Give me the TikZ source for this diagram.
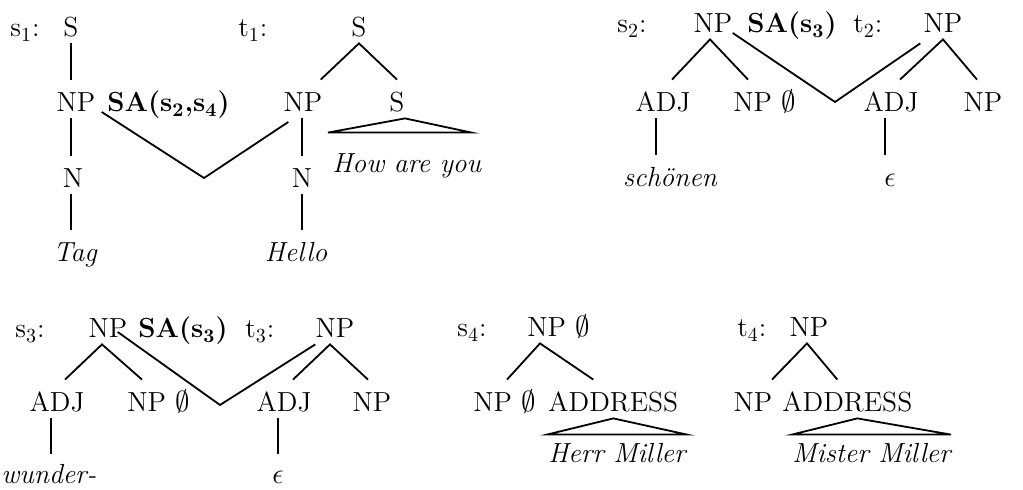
\documentclass[tikz,border=0pt]{standalone}
\usepackage{fontspec}
\begin{document}
\begin{tikzpicture}[x=0.5pt,y=-0.5pt,
 lbl/.style={inner sep=0pt,text height=16pt,text depth=3pt,anchor=base,font=\fontsize{13.8}{16}\selectfont},
 lblw/.style={lbl,anchor=base west},
 tl/.style={line width=0.9pt,line join=miter}]
\useasboundingbox (0,0) rectangle (1023,490);

% ---- s1 ----
\node[lblw] (s1lab) at (10,37) {s$_1$:};
\node[lbl] (s1S) at (71,37) {S};
\node[lbl] (s1NP) at (76,112) {NP};
\node[lblw] (s1SA) at (107,112) {\textbf{SA(s\textsubscript{2},s\textsubscript{4})}};
\node[lbl] (s1N) at (73,188) {N};
\node[lbl] (tag) at (75,262) {\itshape Tag};
\draw[tl] (s1S.south) -- (s1S.south |- s1NP.north);
\draw[tl] (s1S.south |- s1NP.south) -- (s1S.south |- s1N.north);
\draw[tl] (s1S.south |- s1N.south) -- (s1S.south |- tag.north);

% ---- t1 ----
\node[lblw] (t1lab) at (238,37) {t$_1$:};
\node[lbl] (t1S) at (359,37) {S};
\node[lbl] (t1NP) at (303,112) {NP};
\node[lbl] (t1S2) at (397,112) {S};
\node[lblw] (how) at (332,173) {\itshape How are you};
\node[lbl] (t1N) at (302,188) {N};
\node[lbl] (hello) at (296,262) {\itshape Hello};
\draw[tl] ([xshift=-1pt]t1NP.north east) -- (t1S.south) -- (t1S2.north);
\draw[tl] (t1N.north) -- (t1N.north |- t1NP.south);
\draw[tl] (t1N.south) -- (t1N.south |- hello.north);
\draw[tl] ([xshift=4pt]t1S2.south) -- ([xshift=-2pt,yshift=4pt]how.north west) -- ([xshift=-5pt,yshift=4pt]how.north east) -- cycle;
\coordinate (v1) at (204,178);
\draw[tl] ([xshift=3pt]s1NP.base east) -- (v1) -- ([xshift=2.5pt,yshift=-5pt]t1NP.base west);

% ---- s2 / t2 ----
\node[lblw] (s2lab) at (617,33) {s$_2$:};
\node[lbl] (s2NP) at (713,33) {NP};
\node[lblw] (s2SA) at (747,33) {\textbf{SA(s\textsubscript{3})}};
\node[lblw] (t2lab) at (853,33) {t$_2$:};
\node[lbl] (t2NP) at (943,33) {NP};
\node[lbl] (s2ADJ) at (663,112) {ADJ};
\node[lblw] (s2NPe) at (733,112) {NP $\emptyset$};
\node[lbl] (t2ADJ) at (891,112) {ADJ};
\node[lbl] (t2NPc) at (983,112) {NP};
\node[lbl] (schon) at (670,187) {\itshape schönen};
\node[lbl] (t2eps) at (890,187) {$\epsilon$};
\draw[tl] ([xshift=4.5pt]s2ADJ.north) -- ([xshift=-1.5pt]s2NP.south) -- ([xshift=7.5pt]s2NPe.north west);
\draw[tl] ([xshift=4.5pt]t2ADJ.north) -- (t2NP.south) -- ([xshift=-3pt]t2NPc.north);
\coordinate (v2) at (835,102);
\draw[tl] (s2NP.base east) -- (v2) -- ([xshift=-1.5pt,yshift=-2pt]t2NP.south west);
\draw[tl] ([xshift=-3.5pt]s2ADJ.south) -- ([xshift=-3.5pt]s2ADJ.south |- schon.north);
\draw[tl] ([xshift=-3pt]t2ADJ.south) -- ([xshift=-3pt]t2ADJ.south |- t2eps.north);

% ---- s3 / t3 ----
\node[lblw] (s3lab) at (15,338) {s$_3$:};
\node[lbl] (s3NP) at (108,338) {NP};
\node[lblw] (s3SA) at (138,338) {\textbf{SA(s\textsubscript{3})}};
\node[lblw] (t3lab) at (245,338) {t$_3$:};
\node[lbl] (t3NP) at (335,338) {NP};
\node[lbl] (s3ADJ) at (57,412) {ADJ};
\node[lblw] (s3NPe) at (127,412) {NP $\emptyset$};
\node[lbl] (t3ADJ) at (284,412) {ADJ};
\node[lbl] (t3NPc) at (372,412) {NP};
\node[lblw] (wund) at (1,484) {\itshape wunder-};
\node[lbl] (t3eps) at (278,484) {$\epsilon$};
\draw[tl] ([xshift=4pt]s3ADJ.north) -- ([xshift=-3pt]s3NP.south) -- ([xshift=7.5pt]s3NPe.north west);
\draw[tl] ([xshift=4.5pt]t3ADJ.north) -- ([xshift=-2.5pt]t3NP.south) -- ([xshift=-2pt]t3NPc.north);
\coordinate (v3) at (220,405);
\draw[tl] ([xshift=-5pt,yshift=3pt]s3NP.base east) -- (v3) -- (t3NP.south west);
\draw[tl] ([xshift=-3pt]s3ADJ.south) -- ([xshift=-3pt,yshift=-1pt]s3ADJ.south |- wund.north);
\draw[tl] ([xshift=-3pt]t3ADJ.south) -- ([xshift=-3pt,yshift=-1pt]t3ADJ.south |- t3eps.north);

% ---- s4 ----
\node[lblw] (s4lab) at (457,337) {s$_4$:};
\node[lblw] (s4NP) at (527,337) {NP $\emptyset$};
\node[lblw] (s4NPe) at (473,412) {NP $\emptyset$};
\node[lblw] (s4ADDR) at (548,412) {ADDRESS};
\node[lblw] (herr) at (548,463) {\itshape Herr Miller};
\draw[tl] ([xshift=17pt]s4NPe.north west) -- ([xshift=6.5pt]s4NP.south west) -- ([xshift=-10pt]s4ADDR.north);
\draw[tl] (s4ADDR.south) -- ([xshift=-0.5pt,yshift=-2pt]herr.north west) -- ([xshift=0.5pt,yshift=-2pt]herr.north east) -- cycle;

% ---- t4 ----
\node[lblw] (t4lab) at (737,337) {t$_4$:};
\node[lbl] (t4NP) at (809,337) {NP};
\node[lbl] (t4NPc) at (753,412) {NP};
\node[lblw] (t4ADDR) at (782,412) {ADDRESS};
\node[lblw] (mister) at (792,463) {\itshape Mister Miller};
\draw[tl] ([xshift=9.5pt]t4NPc.north) -- ([xshift=-1pt]t4NP.south) -- ([xshift=-5pt]t4ADDR.north);
\draw[tl] ([xshift=5pt]t4ADDR.south) -- ([yshift=-2pt]mister.north west) -- ([yshift=-2pt]mister.north east) -- cycle;
\end{tikzpicture}
\end{document}
